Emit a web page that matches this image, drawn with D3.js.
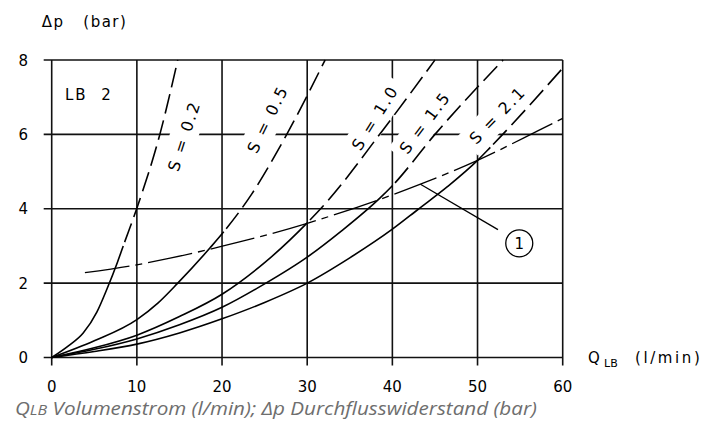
<!DOCTYPE html>
<html>
<head>
<meta charset="utf-8">
<script src="https://cdn.jsdelivr.net/npm/d3@7"></script>
<style>
  body { margin: 0; background: #fff; }
  svg { display: block; }
  text { font-family: "DejaVu Sans", sans-serif; fill: #000; }
</style>
</head>
<body>
<script>
// axis ticks
const xTicks = [0, 10, 20, 30, 40, 50, 60];
const yTicks = [0, 2, 4, 6, 8];

// curves: [Q (l/min), dp (bar)]
// each S curve is solid up to its split Q, dashed after it
const s02 = [[0,0],[2,0.32],[3.7,0.66],[5.3,1.22],[6.5,1.85],[7.7,2.55],[8.4,3.0],[10.05,4.05],[12.7,6],[14.8,8]];
const s05 = [[0,0],[5,0.45],[10,1.02],[12.5,1.47],[14.8,2.0],[18.6,2.95],[20.2,3.38],[23.5,4.4],[27.6,6],[32.1,8]];
const s10 = [[0,0],[5,0.26],[10,0.6],[15,1.1],[20,1.7],[25,2.55],[30,3.62],[31.9,4.08],[38.9,6.12],[45,8]];
const s15 = [[0,0],[5,0.22],[10,0.5],[15,0.88],[20,1.35],[25,1.98],[30,2.7],[34,3.4],[38.5,4.28],[40,4.62],[45,6.0],[53,8]];
const s21 = [[0,0],[5,0.16],[10,0.36],[15,0.66],[20,1.04],[25,1.48],[30,2.0],[35,2.68],[40,3.45],[43,3.98],[46.5,4.6],[50,5.3],[51.5,5.65],[60,7.78]];
const sSplit = [8.4, 20.2, 30, 40, 51.5];
// curve (1), dash-dot
const line1 = [[3.9,2.28],[9.2,2.46],[13.9,2.67],[19.8,2.98],[24.5,3.25],[30,3.61],[43.3,4.66],[50,5.3],[57.3,6.12],[60,6.43]];

const sNames = ["S = 0.2", "S = 0.5", "S = 1.0", "S = 1.5", "S = 2.1"];
// label anchors in data units and text angle
const sLabelAt = [[15.53,5.96,-72],[25.34,6.41,-64],[37.96,6.45,-58],[43.83,6.32,-53],[52.34,6.52,-46]];

const marker1 = {from: [43.3,4.66], to: [52.4,3.44], at: [54.9,3.07], text: "1"};

const W = 721, H = 428;
const x = d3.scaleLinear().domain([0, 60]).range([51.7, 562.7]);
const y = d3.scaleLinear().domain([0, 8]).range([357.5, 60]);

const svg = d3.select("body").append("svg").attr("width", W).attr("height", H);

// grid with tick stubs
const grid = svg.append("g").attr("stroke", "#111").attr("stroke-width", 1.6);
grid.selectAll(".vx").data(xTicks).join("line")
  .attr("x1", d => x(d)).attr("x2", d => x(d))
  .attr("y1", y(8)).attr("y2", y(0) + 8);
grid.selectAll(".hy").data(yTicks).join("line")
  .attr("x1", x(0) - 8).attr("x2", x(60))
  .attr("y1", d => y(d)).attr("y2", d => y(d));

// tick labels
svg.append("g").selectAll("text").data(xTicks).join("text")
  .attr("x", d => x(d)).attr("y", 392)
  .attr("text-anchor", "middle").attr("font-size", 15)
  .text(d => d);
svg.append("g").selectAll("text").data(yTicks).join("text")
  .attr("x", 28).attr("y", d => y(d) + 5.5)
  .attr("text-anchor", "end").attr("font-size", 15)
  .text(d => d);

// S labels: white box cut out of the grid, text on top
const labels = svg.append("g").selectAll("g").data(sNames).join("g")
  .attr("transform", (d, i) => `translate(${x(sLabelAt[i][0])},${y(sLabelAt[i][1])}) rotate(${sLabelAt[i][2]})`);
labels.append("text")
  .attr("text-anchor", "middle").attr("dy", "0.36em")
  .attr("font-size", 16).attr("letter-spacing", 2)
  .text(d => d);
labels.each(function() {
  const g = d3.select(this);
  const len = g.select("text").node().getComputedTextLength();
  g.insert("rect", "text")
    .attr("x", -len / 2 - 6).attr("y", -14)
    .attr("width", len + 12).attr("height", 28)
    .attr("fill", "#fff");
});

// curves: one smooth path each, solid up to the split then dashed
const line = d3.line().x(d => x(d[0])).y(d => y(d[1])).curve(d3.curveMonotoneX);
const curves = svg.append("g").attr("fill", "none").attr("stroke", "#000").attr("stroke-width", 1.6);

function lengthAtX(node, px) {
  let lo = 0, hi = node.getTotalLength();
  for (let k = 0; k < 40; k++) {
    const mid = (lo + hi) / 2;
    if (node.getPointAtLength(mid).x < px) lo = mid; else hi = mid;
  }
  return lo;
}

[s02, s05, s10, s15, s21].forEach((pts, i) => {
  const p = curves.append("path").attr("d", line(pts));
  const node = p.node();
  const total = node.getTotalLength();
  const solid = lengthAtX(node, x(sSplit[i]));
  const dash = [solid, 4];
  for (let l = solid; l < total + 40; l += 27) dash.push(20, 7);
  p.attr("stroke-dasharray", dash.join(","));
});
curves.append("path").attr("d", line(line1))
  .attr("stroke-width", 1.3).attr("stroke-dasharray", "45,6,7,6");

labels.raise();

// marker (1)
svg.append("line")
  .attr("x1", x(marker1.from[0])).attr("y1", y(marker1.from[1]))
  .attr("x2", x(marker1.to[0])).attr("y2", y(marker1.to[1]))
  .attr("stroke", "#000").attr("stroke-width", 1.3);
svg.append("circle")
  .attr("cx", x(marker1.at[0])).attr("cy", y(marker1.at[1])).attr("r", 13.5)
  .attr("fill", "#fff").attr("stroke", "#000").attr("stroke-width", 1.3);
svg.append("text")
  .attr("x", x(marker1.at[0])).attr("y", y(marker1.at[1]) + 5.5)
  .attr("text-anchor", "middle").attr("font-size", 15)
  .text(marker1.text);

// inner tag
svg.append("text").attr("x", 65).attr("y", 100)
  .attr("font-size", 15).attr("letter-spacing", 2)
  .style("white-space", "pre")
  .text("LB  2");

// axis titles
const yt = svg.append("text").attr("y", 27).attr("font-size", 15).attr("letter-spacing", 1.5);
yt.append("tspan").attr("x", 41.7).text("Δp");
yt.append("tspan").attr("x", 83.3).text("(bar)");

const xt = svg.append("text").attr("y", 363).attr("font-size", 15);
xt.append("tspan").attr("x", 588).text("Q");
xt.append("tspan").attr("x", 604).attr("dy", 3.5).attr("font-size", 11).text("LB");
xt.append("tspan").attr("x", 635).attr("dy", -3.5).attr("letter-spacing", 2.6).text("(l/min)");

// caption
const cap = svg.append("text").attr("x", 15).attr("y", 415)
  .attr("font-size", 18).attr("font-style", "italic")
  .style("font-family", "'Open Sans', sans-serif").style("fill", "#6e6e6e")
  .attr("textLength", 522).attr("lengthAdjust", "spacingAndGlyphs");
cap.append("tspan").text("Q");
cap.append("tspan").attr("font-size", 14).text("LB");
cap.append("tspan").text(" Volumenstrom (l/min); Δp Durchflusswiderstand (bar)");
</script>
</body>
</html>
